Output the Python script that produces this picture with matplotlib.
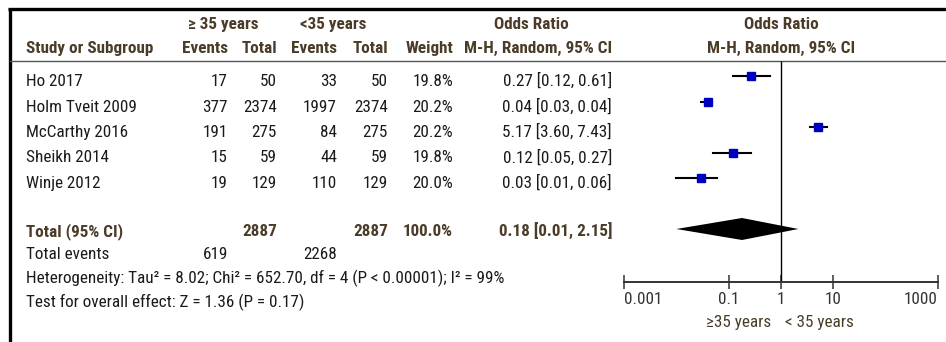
import matplotlib
matplotlib.use("Agg")
import matplotlib.pyplot as plt
from matplotlib import font_manager

# font: a narrow sans like the RevMan export, fall back if missing
names = set(f.name for f in font_manager.fontManager.ttflist)
fam = "DejaVu Sans"
for f in ["Liberation Sans Narrow", "Roboto Condensed", "Liberation Sans"]:
    if f in names:
        fam = f
        break
plt.rcParams["font.family"] = [fam, "DejaVu Sans"]

# data
studies = ["Ho 2017", "Holm Tveit 2009", "McCarthy 2016", "Sheikh 2014", "Winje 2012"]
events_old = [17, 377, 191, 15, 19]
total_old = [50, 2374, 275, 59, 129]
events_young = [33, 1997, 84, 44, 110]
total_young = [50, 2374, 275, 59, 129]
weights = [19.8, 20.2, 20.2, 19.8, 20.0]
odds = [0.27, 0.04, 5.17, 0.12, 0.03]
ci_lo = [0.12, 0.03, 3.60, 0.05, 0.01]
ci_hi = [0.61, 0.04, 7.43, 0.27, 0.06]
pooled = [0.18, 0.01, 2.15]
pooled_n = [2887, 2887]
pooled_events = [619, 2268]
ticks = [0.001, 0.1, 1, 10, 1000]
tick_labels = ["0.001", "0.1", "1", "10", "1000"]
het_text = "Heterogeneity: Tau\u00b2 = 8.02; Chi\u00b2 = 652.70, df = 4 (P < 0.00001); I\u00b2 = 99%"
test_text = "Test for overall effect: Z = 1.36 (P = 0.17)"

W, H = 946, 342
hdr = "#4a3c28"
txt = "#1a1a1a"
fs = 12.3

fig = plt.figure(figsize=(W / 100, H / 100), dpi=100)
bg = fig.add_axes([0, 0, 1, 1])
bg.set_xlim(0, W)
bg.set_ylim(H, 0)
bg.axis("off")

# frame lines
bg.plot([8, W], [9, 9], color="black", lw=2.4, solid_capstyle="butt")
bg.plot([9.5, 9.5], [8, H], color="black", lw=2.4, solid_capstyle="butt")
bg.plot([10, W], [61, 61], color="#555555", lw=1)

# headers
def t(x, y, s, ha="left", bold=False, color=txt):
    bg.text(x, y, s, ha=ha, va="baseline", fontsize=fs, color=color,
            fontweight="bold" if bold else "normal")

t(223, 29, "\u2265 35 years", "center", True, hdr)
t(333, 29, "<35 years", "center", True, hdr)
t(531, 29, "Odds Ratio", "center", True, hdr)
t(781, 29, "Odds Ratio", "center", True, hdr)
t(26, 53, "Study or Subgroup", "left", True, hdr)
t(228, 53, "Events", "right", True, hdr)
t(277, 53, "Total", "right", True, hdr)
t(337, 53, "Events", "right", True, hdr)
t(388, 53, "Total", "right", True, hdr)
t(453, 53, "Weight", "right", True, hdr)
t(612, 53, "M-H, Random, 95% CI", "right", True, hdr)
t(781, 53, "M-H, Random, 95% CI", "center", True, hdr)

row_y = [76 + 25.5 * i for i in range(len(studies))]
for i, name in enumerate(studies):
    b = row_y[i] + 10
    t(26, b, name)
    t(228, b, str(events_old[i]), "right")
    t(277, b, str(total_old[i]), "right")
    t(337, b, str(events_young[i]), "right")
    t(388, b, str(total_young[i]), "right")
    t(453, b, "%.1f%%" % weights[i], "right")
    t(612, b, "%.2f [%.2f, %.2f]" % (odds[i], ci_lo[i], ci_hi[i]), "right")

tot_y = 229
t(26, 236, "Total (95% CI)", "left", True, hdr)
t(277, 236, str(pooled_n[0]), "right", True, hdr)
t(388, 236, str(pooled_n[1]), "right", True, hdr)
t(453, 236, "%.1f%%" % sum(weights), "right", True, hdr)
t(612, 236, "%.2f [%.2f, %.2f]" % tuple(pooled), "right", True, hdr)
t(26, 259, "Total events")
t(228, 259, str(pooled_events[0]), "right")
t(337, 259, str(pooled_events[1]), "right")
t(26, 283, het_text)
t(26, 307, test_text)

# forest panel, log x, y in the same pixel units
x0, x1 = 624, 938
ax = fig.add_axes([x0 / W, 0, (x1 - x0) / W, 1])
ax.set_xscale("log")
ax.set_xlim(ticks[0], ticks[-1])
ax.set_ylim(H, 0)
ax.patch.set_visible(False)
for s in ["top", "left", "right"]:
    ax.spines[s].set_visible(False)
axis_y = 282
ax.spines["bottom"].set_position(("data", axis_y))
ax.spines["bottom"].set_linewidth(1.4)
ax.spines["bottom"].set_color("#333333")
ax.set_yticks([])
ax.set_xticks(ticks)
ax.set_xticklabels(tick_labels)
ax.minorticks_off()
ax.tick_params(axis="x", direction="inout", length=10, width=1.1, color="#333333",
               labelsize=fs, labelcolor="#333333", pad=2)
lbls = ax.get_xticklabels()
lbls[0].set_ha("left")
lbls[-1].set_ha("right")

ax.vlines(1, 61, axis_y, color="black", lw=1)
for i in range(len(studies)):
    ax.plot([ci_lo[i], ci_hi[i]], [row_y[i], row_y[i]], color="black", lw=1.5)
    ax.plot(odds[i], row_y[i], marker="s", ms=6 * (weights[i] / 20) ** 0.5,
            color="#0000c0", mec="#0000c0")
dh = 11
ax.fill([pooled[1], pooled[0], pooled[2], pooled[0]],
        [tot_y, tot_y - dh, tot_y, tot_y + dh], color="black", lw=0)

bg.text(739, 322, "\u226535 years", ha="center", va="center", fontsize=fs, color=hdr)
bg.text(819, 322, "< 35 years", ha="center", va="center", fontsize=fs, color=hdr)

fig.savefig("out.png", dpi=100)
